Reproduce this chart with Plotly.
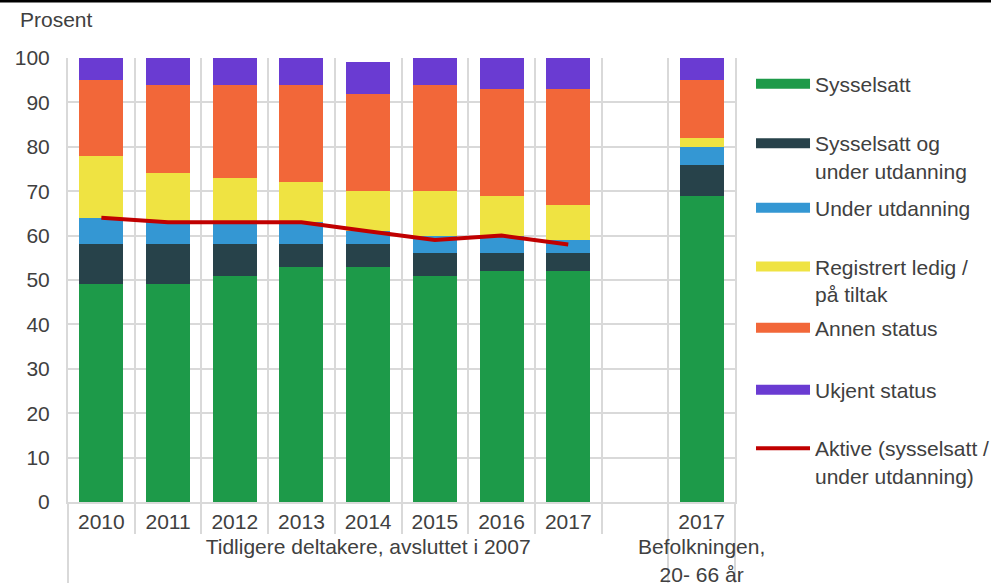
import plotly.graph_objects as go

groups = ["Tidligere deltakere, avsluttet i 2007"] * 9 + ["Befolkningen,<br>20- 66 år"]
years = ["2010", "2011", "2012", "2013", "2014", "2015", "2016", "2017", " ", "2017"]

sysselsatt = [49, 49, 51, 53, 53, 51, 52, 52, None, 69]
syss_utd = [9, 9, 7, 5, 5, 5, 4, 4, None, 7]
under_utd = [6, 5, 5, 5, 3, 4, 4, 3, None, 4]
registrert = [14, 11, 10, 9, 9, 10, 9, 8, None, 2]
annen = [17, 20, 21, 22, 22, 24, 24, 26, None, 13]
ukjent = [5, 6, 6, 6, 7, 6, 7, 7, None, 5]
aktive = [64, 63, 63, 63, 61, 59, 60, 58, None, None]

series = [
    ("Sysselsatt", sysselsatt, "#1d9a49"),
    ("Sysselsatt og<br>under utdanning", syss_utd, "#27424a"),
    ("Under utdanning", under_utd, "#3497d3"),
    ("Registrert ledig /<br>på tiltak", registrert, "#efe342"),
    ("Annen status", annen, "#f26739"),
    ("Ukjent status", ukjent, "#6a3bd2"),
]
line_name = "Aktive (sysselsatt /<br>under utdanning)"
line_color = "#c00000"

legend_y = [0.9414, 0.7770, 0.6622, 0.4990, 0.3919, 0.2523, 0.0900]

x = [groups, years]
TXT = "#404040"
GRID = "#d9d9d9"
FONT = "Liberation Sans, Arial, sans-serif"
FS = 21

fig = go.Figure()
for name, vals, col in series:
    fig.add_trace(go.Bar(x=x, y=vals, name=name, marker_color=col,
                         marker_line_width=0, showlegend=False))
fig.add_trace(go.Scatter(x=x, y=aktive, name=line_name, mode="lines",
                         line=dict(color=line_color, width=4), showlegend=False))

# legend entries
entries = [(n, c, 11) for n, _, c in series] + [(line_name, line_color, 4)]
legend_layout = {}
for i, (n, c, w) in enumerate(entries):
    key = "legend" if i == 0 else f"legend{i+1}"
    fig.add_trace(go.Scatter(x=[[groups[0]], [years[0]]], y=[None], name=n, mode="lines",
                             line=dict(color=c, width=w), legend=key, showlegend=True,
                             hoverinfo="skip"))
    legend_layout[key] = dict(x=1.024, y=legend_y[i], xanchor="left", yanchor="middle",
                              font=dict(size=FS, color=TXT, family=FONT),
                              valign="top", itemwidth=54, bgcolor="rgba(0,0,0,0)")

fig.update_layout(
    barmode="stack",
    bargap=0.34,
    width=991, height=583,
    margin=dict(l=68, r=256, t=58, b=81, autoexpand=False),
    plot_bgcolor="white", paper_bgcolor="white",
    font=dict(family=FONT, size=FS, color=TXT),
    **legend_layout,
)
fig.update_xaxes(
    type="multicategory", automargin=False,
    showgrid=True, gridcolor=GRID, gridwidth=2,
    tickson="boundaries", ticks="outside", ticklen=30, tickwidth=2, tickcolor=GRID,
    showdividers=True, dividercolor=GRID, dividerwidth=2,
    showline=True, linecolor=GRID, linewidth=2,
    tickfont=dict(size=FS, color=TXT),
)
fig.update_yaxes(
    automargin=False,
    range=[0, 100], dtick=10, showgrid=True, gridcolor=GRID, gridwidth=2,
    zeroline=False, showline=True, mirror=True, linecolor=GRID, linewidth=2,
    tickfont=dict(size=FS, color=TXT), ticks="", ticklabelstandoff=12,
)
fig.add_annotation(text="Prosent", xref="paper", yref="paper", x=-50/667,
                   y=1 + 38/444, xanchor="left", yanchor="middle", showarrow=False,
                   font=dict(size=FS, color=TXT))
fig.add_shape(type="line", xref="paper", yref="paper", x0=-68/667, x1=1 + 256/667,
              y0=1 + 57/444, y1=1 + 57/444, line=dict(color="black", width=3))

fig.write_html("out.html", config={"displayModeBar": False},
               post_script="document.body.style.margin='0';")
